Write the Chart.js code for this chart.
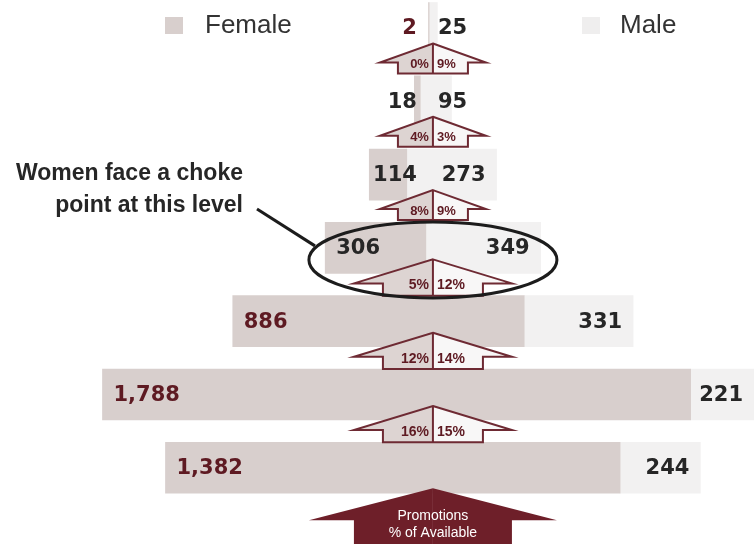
<!DOCTYPE html>
<html>
<head>
<meta charset="utf-8">
<title>Promotions by level</title>
<script src="https://cdn.jsdelivr.net/npm/chart.js@4.4.1/dist/chart.umd.min.js"></script>
<style>
  html, body { margin: 0; padding: 0; background: #fff; }
  #wrap { width: 754px; height: 544px; }
</style>
</head>
<body>
<div id="wrap"><canvas id="chart" width="754" height="544"></canvas></div>
<script>
// rows run from the top of the pyramid down
const levels = ["Level 7", "Level 6", "Level 5", "Level 4", "Level 3", "Level 2", "Level 1"];
const female = [2, 18, 114, 306, 886, 1788, 1382];
const male = [25, 95, 273, 349, 331, 221, 244];
// promotion rate (% of available) between row i and row i+1
const femalePromo = [0, 4, 8, 5, 12, 16];
const malePromo = [9, 3, 9, 12, 14, 15];

const FEMALE_FILL = "#d8cfcd";
const MALE_FILL = "#f2f1f1";
const MAROON = "#5e1a22";
const ARROW_LINE = "#6e2a33";
const DARK = "#262626";
const BAR = 51;
const femaleLabelColor = [MAROON, DARK, DARK, DARK, MAROON, MAROON, MAROON];

// each row is centred on 0: female on the left part, male continues to the right
const femaleBars = levels.map((l, i) => {
  const start = -(female[i] + male[i]) / 2;
  return { x: [start, start + female[i]], y: i };
});
const maleBars = levels.map((l, i) => {
  const start = -(female[i] + male[i]) / 2 + female[i];
  return { x: [start, start + male[i]], y: i };
});

const drawArrow = (ctx, cx, top, base, bottom, headHalf, shaftHalf, leftFill, rightFill, lw) => {
  ctx.fillStyle = leftFill;
  ctx.beginPath();
  ctx.moveTo(cx, top);
  ctx.lineTo(cx - headHalf, base);
  ctx.lineTo(cx - shaftHalf, base);
  ctx.lineTo(cx - shaftHalf, bottom);
  ctx.lineTo(cx, bottom);
  ctx.closePath();
  ctx.fill();
  ctx.fillStyle = rightFill;
  ctx.beginPath();
  ctx.moveTo(cx, top);
  ctx.lineTo(cx + headHalf, base);
  ctx.lineTo(cx + shaftHalf, base);
  ctx.lineTo(cx + shaftHalf, bottom);
  ctx.lineTo(cx, bottom);
  ctx.closePath();
  ctx.fill();
  if (!lw) return;
  ctx.strokeStyle = ARROW_LINE;
  ctx.lineWidth = lw;
  ctx.lineJoin = "miter";
  ctx.beginPath();
  ctx.moveTo(cx, top);
  ctx.lineTo(cx + headHalf, base);
  ctx.lineTo(cx + shaftHalf, base);
  ctx.lineTo(cx + shaftHalf, bottom);
  ctx.lineTo(cx - shaftHalf, bottom);
  ctx.lineTo(cx - shaftHalf, base);
  ctx.lineTo(cx - headHalf, base);
  ctx.closePath();
  ctx.moveTo(cx, top);
  ctx.lineTo(cx, bottom);
  ctx.stroke();
};

const decorations = {
  id: "decorations",
  afterDatasetsDraw(chart) {
    const { ctx, scales: { x, y } } = chart;
    const cx = x.getPixelForValue(0);
    const half = BAR / 2;
    ctx.save();

    // promotion arrows between the rows
    femalePromo.forEach((fp, i) => {
      const upperBottom = y.getPixelForValue(i) + half;
      const lowerTop = y.getPixelForValue(i + 1) - half;
      const big = i >= 3;
      const top = upperBottom - (big ? 14 : 10);
      const base = top + (big ? 24 : 19);
      const bottom = big ? lowerTop : top + 30;
      drawArrow(ctx, cx, top, base, bottom, big ? 79 : 53, big ? 50 : 35, "#ddd4d2", "#f8f7f7", 2);
      ctx.font = "bold " + (big ? 14 : 13) + "px 'Liberation Sans', Arial, sans-serif";
      ctx.fillStyle = MAROON;
      ctx.textBaseline = "middle";
      ctx.textAlign = "right";
      ctx.fillText(fp + "%", cx - 4, base + 2);
      ctx.textAlign = "left";
      ctx.fillText(malePromo[i] + "%", cx + 4, base + 2);
    });

    // big "Promotions" arrow at the foot
    const footTop = y.getPixelForValue(levels.length - 1) + half - 5;
    drawArrow(ctx, cx, footTop, footTop + 32, footTop + 80, 124, 79, "#6e1f29", "#6e1f29", 0);
    ctx.fillStyle = "#ffffff";
    ctx.font = "14px 'Liberation Sans', Arial, sans-serif";
    ctx.textAlign = "center";
    ctx.textBaseline = "middle";
    ctx.fillText("Promotions", cx, footTop + 28);
    ctx.fillText("% of Available", cx, footTop + 45);

    // choke point ellipse
    const ey = y.getPixelForValue(3) + 12;
    ctx.strokeStyle = "#1c1c1c";
    ctx.lineWidth = 3;
    ctx.beginPath();
    ctx.ellipse(cx, ey, 124, 38, 0, 0, Math.PI * 2);
    ctx.stroke();
    ctx.beginPath();
    ctx.moveTo(257, 209);
    ctx.lineTo(cx - 118, ey - 14);
    ctx.stroke();

    // value labels
    ctx.font = "bold 21px 'DejaVu Sans', sans-serif";
    ctx.textBaseline = "middle";
    levels.forEach((l, i) => {
      const cy = y.getPixelForValue(i) + 1;
      const fl = female[i].toLocaleString("en-US");
      const ml = male[i].toLocaleString("en-US");
      const left = x.getPixelForValue(femaleBars[i].x[0]);
      const mid = x.getPixelForValue(femaleBars[i].x[1]);
      const right = x.getPixelForValue(maleBars[i].x[1]);
      const fw = ctx.measureText(fl).width;
      const mw = ctx.measureText(ml).width;
      ctx.fillStyle = femaleLabelColor[i];
      if (mid - left >= fw + 24) {
        ctx.textAlign = "left";
        ctx.fillText(fl, left + 11, cy);
      } else {
        ctx.textAlign = "right";
        ctx.fillText(fl, cx - 16, cy);
      }
      ctx.fillStyle = DARK;
      if (right - mid >= mw + 24) {
        ctx.textAlign = "right";
        ctx.fillText(ml, Math.min(right, chart.width) - 11, cy);
      } else {
        ctx.textAlign = "left";
        ctx.fillText(ml, cx + 5, cy);
      }
    });

    // annotation
    ctx.fillStyle = DARK;
    ctx.font = "bold 23px 'Liberation Sans', Arial, sans-serif";
    ctx.textAlign = "right";
    ctx.fillText("Women face a choke", 243, 174);
    ctx.fillText("point at this level", 243, 206);

    // legend
    ctx.textAlign = "left";
    ctx.font = "26px 'Liberation Sans', Arial, sans-serif";
    ctx.fillStyle = FEMALE_FILL;
    ctx.fillRect(165, 17, 18, 17);
    ctx.fillStyle = "#333333";
    ctx.fillText("Female", 205, 26);
    ctx.fillStyle = "#efeeee";
    ctx.fillRect(582, 17, 18, 17);
    ctx.fillStyle = "#333333";
    ctx.fillText("Male", 620, 26);

    ctx.restore();
  }
};

const chart = new Chart(document.getElementById("chart").getContext("2d"), {
  type: "bar",
  data: {
    datasets: [
      { label: "Female", data: femaleBars, backgroundColor: FEMALE_FILL, barThickness: BAR, grouped: false },
      { label: "Male", data: maleBars, backgroundColor: MALE_FILL, barThickness: BAR, grouped: false }
    ]
  },
  options: {
    indexAxis: "y",
    responsive: false,
    animation: false,
    layout: { padding: 0 },
    scales: {
      x: { type: "linear", min: -1316, max: 976, display: false },
      y: { type: "linear", min: -0.382, max: 7.04, reverse: true, offset: false, display: false }
    },
    plugins: {
      legend: { display: false },
      tooltip: { enabled: true }
    }
  },
  plugins: [decorations]
});
</script>
</body>
</html>
